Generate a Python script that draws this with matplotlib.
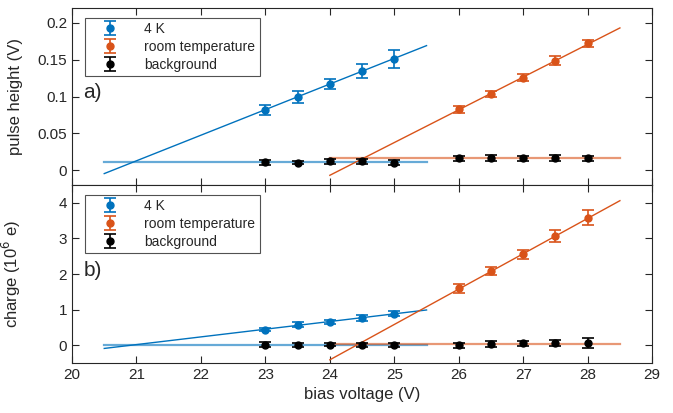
import matplotlib
matplotlib.use("Agg")
import matplotlib.pyplot as plt

plt.rcParams['font.family'] = ['Liberation Sans', 'DejaVu Sans']

BLUE = '#0072BD'
ORANGE = '#D95319'
DARK = '#262626'

# bias voltages
v_4k = [23, 23.5, 24, 24.5, 25]
v_rt = [26, 26.5, 27, 27.5, 28]
v_bg = [23, 23.5, 24, 24.5, 25, 26, 26.5, 27, 27.5, 28]

# a) pulse height (V)
ph_4k = [0.082, 0.099, 0.117, 0.134, 0.151]
ph_4k_err = [0.0068, 0.008, 0.007, 0.0095, 0.012]
ph_rt = [0.0824, 0.104, 0.1257, 0.1486, 0.172]
ph_rt_err = [0.005, 0.004, 0.005, 0.006, 0.005]
ph_bg = [0.0108, 0.0105, 0.012, 0.012, 0.0104, 0.016, 0.017, 0.016, 0.017, 0.016]
ph_bg_err = [0.003, 0.002, 0.003, 0.003, 0.003, 0.004, 0.004, 0.003, 0.004, 0.004]

# fit lines (end points)
ph_fit_4k_x = [20.5, 25.5]
ph_fit_4k_y = [-0.0045, 0.169]
ph_fit_rt_x = [24, 28.5]
ph_fit_rt_y = [-0.0068, 0.193]
ph_bg_4k_y = [0.0108, 0.0108]
ph_bg_rt_y = [0.0166, 0.0166]

# b) charge (10^6 e)
q_4k = [0.44, 0.57, 0.66, 0.77, 0.88]
q_4k_err = [0.05, 0.07, 0.06, 0.08, 0.07]
q_rt = [1.6, 2.08, 2.55, 3.07, 3.58]
q_rt_err = [0.12, 0.12, 0.12, 0.18, 0.21]
q_bg = [0.02, 0.0, 0.02, 0.0, 0.01, 0.0, 0.03, 0.05, 0.06, 0.05]
q_bg_err = [0.06, 0.05, 0.05, 0.05, 0.05, 0.07, 0.08, 0.08, 0.08, 0.14]

q_fit_4k_x = [20.5, 25.5]
q_fit_4k_y = [-0.09, 0.99]
q_fit_rt_x = [24, 28.5]
q_fit_rt_y = [-0.41, 4.06]
q_bg_4k_y = [0.0, 0.0]
q_bg_rt_y = [0.03, 0.03]


def style_axes(ax):
    for s in ax.spines.values():
        s.set_color(DARK)
        s.set_linewidth(0.8)
    ax.tick_params(direction='in', top=True, right=True, colors=DARK,
                   labelsize=11, length=5, width=0.8)
    ax.set_xlim(20, 29)


def draw_panel(ax, x4, y4, e4, xr, yr, er, xb, yb, eb,
               f4x, f4y, frx, fry, b4y, bry, label):
    ax.plot(f4x, b4y, color=BLUE, alpha=0.6, lw=1.6, zorder=1)
    ax.plot(frx, bry, color=ORANGE, alpha=0.6, lw=1.6, zorder=1)
    ax.plot(f4x, f4y, color=BLUE, lw=1.0, zorder=2)
    ax.plot(frx, fry, color=ORANGE, lw=1.0, zorder=2)
    kw = dict(fmt='o', ms=5, capsize=4, elinewidth=1.2, capthick=1.2, zorder=3)
    ax.errorbar(x4, y4, yerr=e4, color=BLUE, label='4 K', **kw)
    ax.errorbar(xr, yr, yerr=er, color=ORANGE, label='room temperature', **kw)
    ax.errorbar(xb, yb, yerr=eb, color='black', label='background', **kw)
    leg = ax.legend(loc='upper left', bbox_to_anchor=(0.01, 0.985), fontsize=10,
                    frameon=True, fancybox=False, edgecolor=DARK,
                    handletextpad=1.0, borderpad=0.3, labelspacing=0.3,
                    handlelength=3.0)
    leg.get_frame().set_linewidth(0.8)
    for t in leg.get_texts():
        t.set_color(DARK)
    ax.text(0.02, 0.52, label, transform=ax.transAxes, fontsize=15,
            color=DARK, va='center', ha='left')
    style_axes(ax)


fig = plt.figure(figsize=(6.73, 4.13), dpi=100)
ax1 = fig.add_axes([0.107, 0.552, 0.862, 0.4286])
ax2 = fig.add_axes([0.107, 0.121, 0.862, 0.431])

draw_panel(ax1, v_4k, ph_4k, ph_4k_err, v_rt, ph_rt, ph_rt_err, v_bg, ph_bg, ph_bg_err,
           ph_fit_4k_x, ph_fit_4k_y, ph_fit_rt_x, ph_fit_rt_y, ph_bg_4k_y, ph_bg_rt_y, 'a)')
ax1.set_ylim(-0.02, 0.22)
ax1.set_yticks([0, 0.05, 0.1, 0.15, 0.2])
ax1.set_yticklabels(['0', '0.05', '0.1', '0.15', '0.2'])
ax1.set_xticks(range(20, 30))
ax1.tick_params(labelbottom=False)
ax1.set_ylabel('pulse height (V)', fontsize=12, color=DARK)

draw_panel(ax2, v_4k, q_4k, q_4k_err, v_rt, q_rt, q_rt_err, v_bg, q_bg, q_bg_err,
           q_fit_4k_x, q_fit_4k_y, q_fit_rt_x, q_fit_rt_y, q_bg_4k_y, q_bg_rt_y, 'b)')
ax2.set_ylim(-0.5, 4.5)
ax2.set_yticks([0, 1, 2, 3, 4])
ax2.set_xticks(range(20, 30))
ax2.set_xlabel('bias voltage (V)', fontsize=12, color=DARK)
ax2.set_ylabel('charge (10$^6$ e)', fontsize=12, color=DARK)

ax1.yaxis.set_label_coords(-0.085, 0.5)
ax2.yaxis.set_label_coords(-0.085, 0.5)
fig.savefig('out.png', dpi=100)
